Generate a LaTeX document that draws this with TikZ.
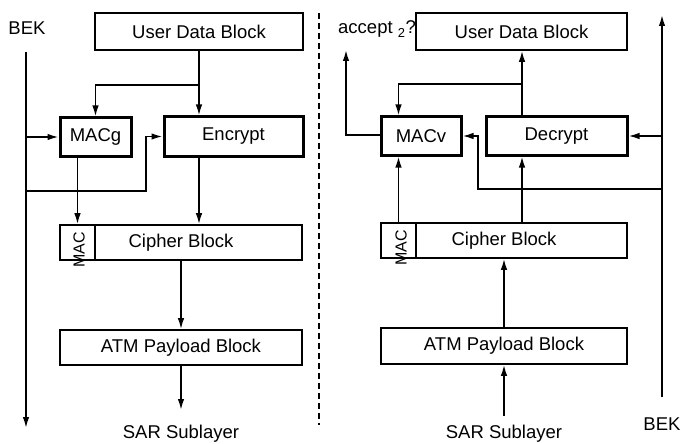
\documentclass[tikz,border=0pt]{standalone}
\usepackage{fontspec}
\setmainfont{Liberation Sans}
\usetikzlibrary{arrows.meta}
\begin{document}
\begin{tikzpicture}[x=1pt,y=-1pt,
  box/.style={draw,line width=1.6pt,inner sep=0pt,font=\fontsize{18.5}{20}\selectfont},
  tbox/.style={box,line width=3pt},
  arr/.style={line width=1.6pt,-{Latex[length=11pt,width=6.5pt]}},
  lbl/.style={font=\fontsize{18.5}{20}\selectfont,inner sep=0pt},
  maclbl/.style={font=\fontsize{16}{18}\selectfont,inner sep=0pt,rotate=90}]
\useasboundingbox (0,0) rectangle (681,444);
% ---------- left (sender) ----------
\node[lbl] (bekL) at (27,28) {BEK};
\node[box,minimum width=208pt,minimum height=37pt] (udbL) at (199,31.5) {User Data Block};
\node[tbox,minimum width=71pt,minimum height=38pt] (macg) at (95.5,137) {MACg};
\node[tbox,minimum width=139pt,minimum height=39pt] (enc) at (233.5,136.5) {Encrypt};
\node[box,minimum width=242pt,minimum height=35pt] (cipL) at (181,242.5) {Cipher Block};
\node[box,minimum width=35pt,minimum height=35pt] (macL) at (77.5,242.5) {};
\node[maclbl] (macLt) at (79,250) {MAC};
\node[box,minimum width=242pt,minimum height=35pt] (atmL) at (181,347.5) {ATM Payload Block};
\node[lbl] (sarL) at (181,433.5) {SAR Sublayer};
\coordinate (bekLtop) at (26,52);
\coordinate (bekLbot) at (26,428);
\coordinate (jL) at (199,85);
\coordinate (kL) at (146,191);
\coordinate (sarLin) at (181,410);
\draw[arr] (bekLtop) -- (bekLbot);
\draw[arr] (bekLtop |- macg.west) -- (macg.west);
\draw[arr] (bekLtop |- kL) -- (kL) |- (enc.west);
\draw[arr] (udbL.south) -- (udbL.south |- enc.north);
\draw[arr] (jL) -| (macg.north);
\draw[arr] (macL.north |- macg.south) -- (macL.north);
\draw[arr] (udbL.south |- enc.south) -- (udbL.south |- cipL.north);
\draw[arr] (cipL.south) -- (atmL.north);
\draw[arr] (atmL.south) -- (sarLin);
% ---------- divider ----------
\coordinate (dTop) at (319,13);
\coordinate (dBot) at (319,425);
\draw[line width=1.6pt,dash pattern=on 6pt off 4pt] (dTop) -- (dBot);
% ---------- right (receiver) ----------
\node[lbl,anchor=base west] (acc) at (338,34) {accept \textsubscript{2}?};
\node[box,minimum width=211pt,minimum height=37pt] (udbR) at (521.5,31.5) {User Data Block};
\node[tbox,minimum width=80pt,minimum height=38pt] (macv) at (421,136) {MACv};
\node[tbox,minimum width=141pt,minimum height=38pt] (dec) at (556.5,136) {Decrypt};
\node[box,minimum width=246pt,minimum height=35pt] (cipR) at (504,240.5) {Cipher Block};
\node[box,minimum width=35pt,minimum height=35pt] (macR) at (398.5,240.5) {};
\node[maclbl] (macRt) at (401,248) {MAC};
\node[box,minimum width=246pt,minimum height=36pt] (atmR) at (504,346) {ATM Payload Block};
\node[lbl] (sarR) at (504,433.5) {SAR Sublayer};
\node[lbl] (bekR) at (662,424) {BEK};
\coordinate (bekRbot) at (662,397);
\coordinate (bekRtop) at (662,15);
\coordinate (jR) at (522,84);
\coordinate (kR) at (478,189);
\coordinate (accTurn) at (346,135);
\coordinate (accEnd) at (346,50);
\coordinate (sarRout) at (504,416);
\draw[arr] (bekRbot) -- (bekRtop);
\draw[arr] (bekRtop |- dec.east) -- (dec.east);
\draw[arr] (bekRtop |- kR) -- (kR) |- (macv.east);
\draw[arr] (jR |- dec.north) -- (jR |- udbR.south);
\draw[arr] (jR) -| (macR.north |- macv.north);
\draw[arr] (macv.west |- accTurn) -- (accTurn) -- (accEnd);
\draw[arr] (macR.north) -- (macR.north |- macv.south);
\draw[arr] (jR |- cipR.north) -- (jR |- dec.south);
\draw[arr] (atmR.north) -- (cipR.south);
\draw[arr] (sarRout) -- (atmR.south);
\end{tikzpicture}
\end{document}
